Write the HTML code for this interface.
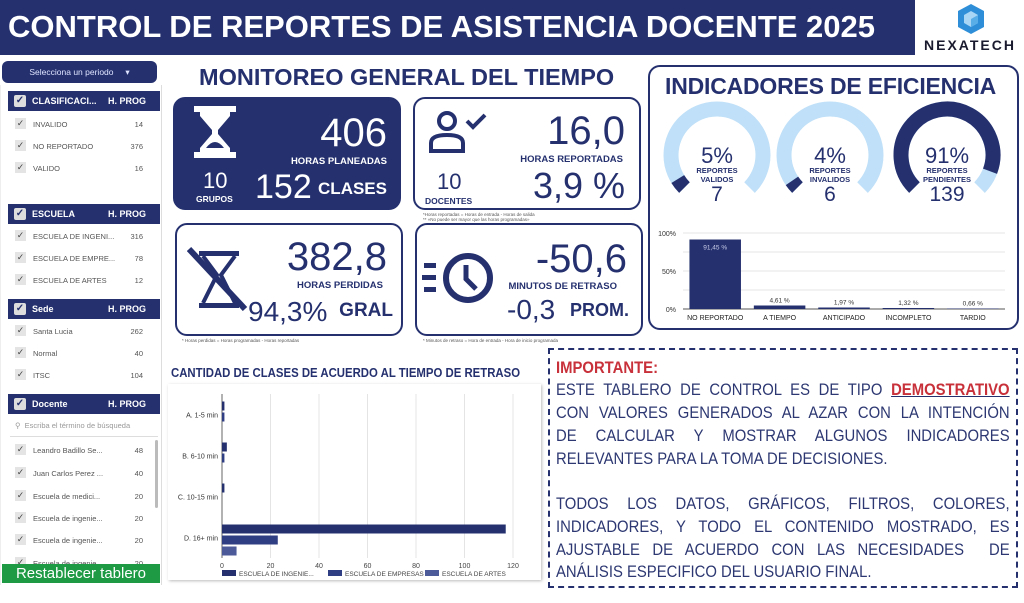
<!DOCTYPE html>
<html><head><meta charset="utf-8">
<style>
*{box-sizing:border-box;margin:0;padding:0}
body{width:1024px;height:603px;overflow:hidden;background:#fff;font-family:"Liberation Sans",sans-serif;color:#25316f;position:relative}
.a{position:absolute}
.nav{background:#25316f;color:#fff}
.card{position:absolute;border:2px solid #25316f;border-radius:12px}
.sh{position:absolute;left:8px;width:152px;height:20px;background:#25316f;color:#fff;font-size:9px;font-weight:bold}
.sh .cb{position:absolute;left:6px;top:4px;width:12px;height:12px;background:#ddd;border-radius:2px;color:#25316f;font-size:10px;line-height:12px;text-align:center}
.sh .t{position:absolute;left:24px;top:5px}
.sh .h{position:absolute;right:14px;top:5px}
.it{position:absolute;left:15px;width:130px;font-size:7.5px;color:#555;height:12px}
.it .cb{position:absolute;left:0;top:0;width:11px;height:11px;background:#e4e4e4;color:#444;font-size:9px;line-height:11px;text-align:center}
.it .t{position:absolute;left:18px;top:2px}
.it .v{position:absolute;right:2px;top:2px}
.big{position:absolute;font-size:40px;line-height:40px}
.lbl{position:absolute;font-weight:bold;font-size:10px}
.imp{position:absolute;left:556px;width:504px;font-size:16.5px;line-height:20px;color:#2d3872;white-space:nowrap;transform:scaleX(0.9);transform-origin:0 0}
.j{text-align:justify;text-align-last:justify;white-space:normal}
.note{position:absolute;font-size:4.5px;color:#555}
</style></head><body>

<div class="a nav" style="left:0;top:0;width:915px;height:55px"></div>
<div class="a" style="left:8px;top:9px;color:#fff;font-size:31px;font-weight:bold;white-space:nowrap">CONTROL DE REPORTES DE ASISTENCIA DOCENTE 2025</div>
<svg class="a" style="left:957px;top:3px" width="28" height="32" viewBox="0 0 28 32"><polygon points="14,1 27,8 27,24 14,31 1,24 1,8" fill="#2e8fd8"/><polygon points="14,8 21,12 21,20 14,24 7,20 7,12" fill="#a9d6f5"/><polygon points="14,16 21,12 21,20 14,24" fill="#5aaee8"/></svg>
<div class="a" style="left:924px;top:37px;font-size:14px;letter-spacing:2px;color:#1a1a2e;font-weight:bold">NEXATECH</div>

<!-- left panel -->
<div class="a" style="left:0;top:85px;width:162px;height:500px;border-right:1px solid #ddd;border-left:1px solid #eee"></div>
<div class="a nav" style="left:2px;top:61px;width:155px;height:22px;border-radius:6px;font-size:8.5px;line-height:22px;text-align:center;color:#dfe4ff">Selecciona un periodo &nbsp;&nbsp;&nbsp;&nbsp;▾</div>

<div class="sh" style="top:91px"><div class="cb">✓</div><div class="t">CLASIFICACI...</div><div class="h">H. PROG</div></div>
<div class="it" style="top:118px"><div class="cb">✓</div><div class="t">INVALIDO</div><div class="v">14</div></div>
<div class="it" style="top:140px"><div class="cb">✓</div><div class="t">NO REPORTADO</div><div class="v">376</div></div>
<div class="it" style="top:162px"><div class="cb">✓</div><div class="t">VALIDO</div><div class="v">16</div></div>

<div class="sh" style="top:204px"><div class="cb">✓</div><div class="t">ESCUELA</div><div class="h">H. PROG</div></div>
<div class="it" style="top:230px"><div class="cb">✓</div><div class="t">ESCUELA DE INGENI...</div><div class="v">316</div></div>
<div class="it" style="top:252px"><div class="cb">✓</div><div class="t">ESCUELA DE EMPRE...</div><div class="v">78</div></div>
<div class="it" style="top:274px"><div class="cb">✓</div><div class="t">ESCUELA DE ARTES</div><div class="v">12</div></div>

<div class="sh" style="top:299px"><div class="cb">✓</div><div class="t">Sede</div><div class="h">H. PROG</div></div>
<div class="it" style="top:325px"><div class="cb">✓</div><div class="t">Santa Lucia</div><div class="v">262</div></div>
<div class="it" style="top:347px"><div class="cb">✓</div><div class="t">Normal</div><div class="v">40</div></div>
<div class="it" style="top:369px"><div class="cb">✓</div><div class="t">ITSC</div><div class="v">104</div></div>

<div class="sh" style="top:394px"><div class="cb">✓</div><div class="t">Docente</div><div class="h">H. PROG</div></div>
<div class="a" style="left:15px;top:421px;font-size:7.5px;color:#999">⚲ &nbsp;Escriba el término de búsqueda</div>
<div class="a" style="left:10px;top:436px;width:148px;height:1px;background:#ddd"></div>
<div class="it" style="top:444px"><div class="cb">✓</div><div class="t">Leandro Badillo Se...</div><div class="v">48</div></div>
<div class="it" style="top:467px"><div class="cb">✓</div><div class="t">Juan Carlos Perez ...</div><div class="v">40</div></div>
<div class="it" style="top:490px"><div class="cb">✓</div><div class="t">Escuela de medici...</div><div class="v">20</div></div>
<div class="it" style="top:512px"><div class="cb">✓</div><div class="t">Escuela de ingenie...</div><div class="v">20</div></div>
<div class="it" style="top:534px"><div class="cb">✓</div><div class="t">Escuela de ingenie...</div><div class="v">20</div></div>
<div class="it" style="top:557px"><div class="cb">✓</div><div class="t">Escuela de ingenie...</div><div class="v">20</div></div>
<div class="a" style="left:155px;top:440px;width:3px;height:68px;background:#bbb;border-radius:2px"></div>
<div class="a" style="left:2px;top:564px;width:158px;height:19px;background:#1e9a45;color:#fff;font-size:15px;line-height:19px;text-align:center">Restablecer tablero</div>

<!-- monitoring -->
<div class="a" style="left:199px;top:64px;font-size:23.5px;font-weight:bold;white-space:nowrap">MONITOREO GENERAL DEL TIEMPO</div>

<div class="card" style="left:173px;top:97px;width:228px;height:113px;background:#25316f;color:#fff">
  <svg class="a" style="left:19px;top:7px" width="42" height="54" viewBox="0 0 42 54"><rect x="0" y="0" width="42" height="6" fill="#fff"/><rect x="0" y="46" width="42" height="6" fill="#fff"/><path d="M6 6 L36 6 L36 10 L24 24 L24 28 L36 42 L36 46 L6 46 L6 42 L18 28 L18 24 L6 10Z" fill="#fff"/><path d="M12 42 Q21 30 30 42Z" fill="#25316f"/></svg>
  <div class="big" style="right:12px;top:14px;color:#fff">406</div>
  <div class="lbl" style="right:12px;top:57px;font-size:9.5px">HORAS PLANEADAS</div>
  <div class="a" style="left:28px;top:69px;font-size:22px">10</div>
  <div class="lbl" style="left:21px;top:95px;font-size:8.5px">GRUPOS</div>
  <div class="big" style="left:80px;top:68px;color:#fff;font-size:34px">152</div>
  <div class="lbl" style="right:12px;top:80px;font-size:17px">CLASES</div>
</div>

<div class="card" style="left:413px;top:97px;width:228px;height:113px">
  <svg class="a" style="left:14px;top:10px" width="62" height="46" viewBox="0 0 62 46"><circle cx="18" cy="12" r="8" fill="none" stroke="#25316f" stroke-width="4"/><path d="M2 42 L2 34 Q2 26 18 26 Q34 26 34 34 L34 42Z" fill="none" stroke="#25316f" stroke-width="4"/><path d="M38 12 L44 18 L56 6" fill="none" stroke="#25316f" stroke-width="4"/></svg>
  <div class="big" style="right:14px;top:12px">16,0</div>
  <div class="lbl" style="right:16px;top:55px;font-size:9.5px">HORAS REPORTADAS</div>
  <div class="a" style="left:22px;top:70px;font-size:22px">10</div>
  <div class="lbl" style="left:10px;top:97px;font-size:8.5px">DOCENTES</div>
  <div class="big" style="right:14px;top:67px;font-size:36px">3,9 %</div>
</div>
<div class="note" style="left:423px;top:212px">*Horas reportadas = Horas de entrada - Horas de salida<br>** «No puede ser mayor que las horas programadas»</div>

<div class="card" style="left:175px;top:223px;width:228px;height:113px">
  <svg class="a" style="left:10px;top:20px" width="62" height="66" viewBox="0 0 62 66"><rect x="12" y="6" width="40" height="5" fill="#25316f"/><rect x="12" y="58" width="40" height="5" fill="#25316f"/><path d="M16 11 L30 30 L16 58 M48 11 L34 30 L48 58" fill="none" stroke="#25316f" stroke-width="4"/><line x1="2" y1="4" x2="58" y2="64" stroke="#25316f" stroke-width="6"/></svg>
  <div class="big" style="right:14px;top:12px">382,8</div>
  <div class="lbl" style="right:18px;top:55px;font-size:9.5px">HORAS PERDIDAS</div>
  <div class="a" style="left:71px;top:71px;font-size:28px">94,3%</div>
  <div class="lbl" style="right:8px;top:75px;font-size:19px">GRAL</div>
</div>
<div class="note" style="left:182px;top:338px">* Horas perdidas = Horas programadas - Horas reportadas</div>

<div class="card" style="left:415px;top:223px;width:228px;height:113px">
  <svg class="a" style="left:5px;top:24px" width="76" height="60" viewBox="0 0 76 60"><rect x="2" y="14" width="12" height="5" fill="#25316f"/><rect x="0" y="26" width="14" height="5" fill="#25316f"/><rect x="2" y="38" width="12" height="5" fill="#25316f"/><circle cx="46" cy="29" r="22" fill="none" stroke="#25316f" stroke-width="6"/><path d="M44 16 L44 30 L54 40" fill="none" stroke="#25316f" stroke-width="5"/></svg>
  <div class="big" style="right:14px;top:14px">-50,6</div>
  <div class="lbl" style="right:24px;top:56px;font-size:9.5px">MINUTOS DE RETRASO</div>
  <div class="a" style="left:90px;top:69px;font-size:28px">-0,3</div>
  <div class="lbl" style="right:12px;top:75px;font-size:18px">PROM.</div>
</div>
<div class="note" style="left:423px;top:338px">* Minutos de retraso = Hora de entrada - Hora de inicio programada</div>

<!-- indicators -->
<div class="card" style="left:648px;top:65px;width:371px;height:265px"></div>
<div class="a" style="left:665px;top:73px;font-size:23px;font-weight:bold;white-space:nowrap;letter-spacing:-0.2px">INDICADORES DE EFICIENCIA</div>
<svg class="a" id="gauges" style="left:648px;top:95px" width="371" height="115"></svg>
<svg class="a" id="effchart" style="left:648px;top:222px" width="371" height="106"></svg>

<!-- delay chart -->
<div class="a" style="left:171px;top:366px;font-size:12.5px;font-weight:bold;white-space:nowrap;transform:scaleX(0.91);transform-origin:0 0">CANTIDAD DE CLASES DE ACUERDO AL TIEMPO DE RETRASO</div>
<div class="a" style="left:168px;top:384px;width:373px;height:196px;box-shadow:1px 1px 3px #bbb"></div>
<svg class="a" id="delaychart" style="left:168px;top:384px" width="373" height="196"></svg>

<!-- important -->
<div class="a" style="left:548px;top:348px;width:470px;height:240px;border:2px dashed #25316f"></div>
<div class="imp" style="top:358px;color:#c8303a;font-weight:bold">IMPORTANTE:</div>
<div class="imp j" style="top:380px">ESTE TABLERO DE CONTROL ES DE TIPO <b style="color:#c8303a;text-decoration:underline;text-decoration-color:#25316f">DEMOSTRATIVO</b></div>
<div class="imp j" style="top:403px">CON VALORES GENERADOS AL AZAR CON LA INTENCIÓN</div>
<div class="imp j" style="top:426px">DE CALCULAR Y MOSTRAR ALGUNOS INDICADORES</div>
<div class="imp" style="top:449px">RELEVANTES PARA LA TOMA DE DECISIONES.</div>
<div class="imp j" style="top:494px">TODOS LOS DATOS, GRÁFICOS, FILTROS, COLORES,</div>
<div class="imp j" style="top:517px">INDICADORES, Y TODO EL CONTENIDO MOSTRADO, ES</div>
<div class="imp j" style="top:540px">AJUSTABLE DE ACUERDO CON LAS NECESIDADES &nbsp;DE</div>
<div class="imp" style="top:562px">ANÁLISIS ESPECIFICO DEL USUARIO FINAL.</div>

<script>
const NS="http://www.w3.org/2000/svg";
function mk(p,tag,at,txt){const e=document.createElementNS(NS,tag);for(const k in at)e.setAttribute(k,at[k]);if(txt!==undefined)e.textContent=txt;p.appendChild(e);return e;}

// gauges
const gaugePct=[5,4,91];
const gaugeLabel1=["REPORTES","REPORTES","REPORTES"];
const gaugeLabel2=["VALIDOS","INVALIDOS","PENDIENTES"];
const gaugeCount=["7","6","139"];
const gs=document.getElementById('gauges');
const gcx=[69,182,299], gcy=60, gr=46;
function arcPath(cx,cy,r,a0,a1){const p=a=>[cx+r*Math.cos(a*Math.PI/180),cy+r*Math.sin(a*Math.PI/180)];const s=p(a0),e=p(a1);const large=(a1-a0)>180?1:0;return `M${s[0]} ${s[1]} A${r} ${r} 0 ${large} 1 ${e[0]} ${e[1]}`;}
gaugePct.forEach((v,i)=>{
  const g=mk(gs,'g',{});
  
  
  const a0=135,span=270,aEnd=a0+span*Math.max(v,0.5)/100;
  mk(g,'path',{d:arcPath(gcx[i],gcy,gr,a0,a0+span),fill:'none',stroke:'#bfe0f8','stroke-width':15});
  mk(g,'path',{d:arcPath(gcx[i],gcy,gr,a0,Math.max(aEnd,a0+8)),fill:'none',stroke:'#25316f','stroke-width':15});
  mk(g,'text',{x:gcx[i],y:gcy+8,'text-anchor':'middle','font-size':22,fill:'#25316f'},v+'%');
  mk(g,'text',{x:gcx[i],y:gcy+18,'text-anchor':'middle','font-size':7.5,'font-weight':'bold',fill:'#25316f'},gaugeLabel1[i]);
  mk(g,'text',{x:gcx[i],y:gcy+27,'text-anchor':'middle','font-size':7.5,'font-weight':'bold',fill:'#25316f'},gaugeLabel2[i]);
  mk(g,'text',{x:gcx[i],y:gcy+46,'text-anchor':'middle','font-size':21,fill:'#25316f'},gaugeCount[i]);
});

// efficiency bar chart
const effCats=["NO REPORTADO","A TIEMPO","ANTICIPADO","INCOMPLETO","TARDIO"];
const effVals=[91.45,4.61,1.97,1.32,0.66];
const effTicks=[0,50,100];
const es=document.getElementById('effchart');
const ex0=35,ex1=357,ey0=87,ey1=11;
const ey=v=>ey0+(ey1-ey0)*v/100;
const slot=(ex1-ex0)/effCats.length;
effTicks.forEach(t=>{mk(es,'text',{x:ex0-7,y:ey(t)+3,'text-anchor':'end','font-size':7,fill:'#333'},t+'%');});
[25,50,75,100].forEach(t=>mk(es,'line',{x1:ex0,x2:ex1,y1:ey(t),y2:ey(t),stroke:'#e6e6e6','stroke-width':1}));
mk(es,'line',{x1:ex0,x2:ex1,y1:ey0,y2:ey0,stroke:'#555','stroke-width':1});
effVals.forEach((v,i)=>{
  const cx=ex0+slot*(i+0.5),w=slot*0.8;
  const r=mk(es,'rect',{x:cx-w/2,y:ey(v),width:w,height:ey0-ey(v),fill:'#25316f'});
  
  
  const lbl=v.toFixed(2).replace('.',',')+' %';
  mk(es,'text',{x:cx,y:i===0?ey(v)+10:ey(v)-3,'text-anchor':'middle','font-size':6.5,fill:i===0?'#c9cde8':'#333'},lbl);
  mk(es,'text',{x:cx,y:ey0+11,'text-anchor':'middle','font-size':7,fill:'#222'},effCats[i]);
});

// delay chart
const delayCats=["A. 1-5 min","B. 6-10 min","C. 10-15 min","D. 16+ min"];
const serIng=[1,2,1,117];
const serEmp=[1,1,0,23];
const serArt=[0,0,0,6];
const serNames=["ESCUELA DE INGENIE...","ESCUELA DE EMPRESAS","ESCUELA DE ARTES"];
const serColors=["#25316f","#2f3d82","#4c5a99"];
const xTicks=[0,20,40,60,80,100,120];
const ds=document.getElementById('delaychart');
const dx0=54,dx1=345,dyTop=10,dyBot=174;
const dx=v=>dx0+(dx1-dx0)*v/120;
const band=(dyBot-dyTop)/delayCats.length;
xTicks.forEach(t=>{mk(ds,'line',{x1:dx(t),x2:dx(t),y1:dyTop,y2:dyBot,stroke:'#e4e4e4','stroke-width':1});mk(ds,'text',{x:dx(t),y:dyBot+10,'text-anchor':'middle','font-size':7,fill:'#444'},t);});
mk(ds,'line',{x1:dx0,x2:dx0,y1:dyTop,y2:dyBot,stroke:'#666','stroke-width':1});
const series=[serIng,serEmp,serArt];
delayCats.forEach((c,i)=>{
  const cy=dyTop+band*(i+0.5);
  mk(ds,'text',{x:dx0-4,y:cy+3,'text-anchor':'end','font-size':7,fill:'#333'},c);
  series.forEach((s,k)=>{
    if(s[i]<=0)return;
    const r=mk(ds,'rect',{x:dx0,y:cy-13+k*11,width:dx(s[i])-dx0,height:9,fill:serColors[k]});
    
    
  });
});
const lx=[54,160,257];
serNames.forEach((n,k)=>{
  const g=mk(ds,'g',{});
  
  
  mk(g,'rect',{x:lx[k],y:186,width:14,height:6,fill:serColors[k]});
  mk(g,'text',{x:lx[k]+17,y:192,'font-size':6.5,fill:'#444'},n);
});
</script>
</body></html>
